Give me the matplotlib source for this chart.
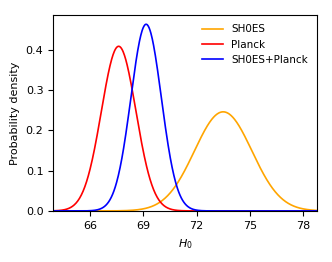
import numpy as np
import matplotlib.pyplot as plt

# Gaussian H0 posteriors (mean, sigma)
labels = ['SH0ES', 'Planck', 'SH0ES+Planck']
means = [73.5, 67.6, 69.15]
sigmas = [1.62, 0.975, 0.86]
colors = ['orange', 'red', 'blue']
xticks = [66, 69, 72, 75, 78]

plt.rcParams['font.size'] = 8

fig = plt.figure(figsize=(3.32, 2.62), dpi=100)
ax = fig.add_axes([0.16, 0.195, 0.795, 0.748])

h0 = np.linspace(63.9, 78.8, 600)
for lab, mu, sig, c in zip(labels, means, sigmas, colors):
    pdf = np.exp(-0.5 * ((h0 - mu) / sig) ** 2) / (sig * np.sqrt(2 * np.pi))
    ax.plot(h0, pdf, color=c, lw=1.2, label=lab)

ax.set_xlim(63.9, 78.8)
ax.set_ylim(0, None)
ax.set_xticks(xticks)
ax.set_xlabel('$H_0$', labelpad=5)
ax.set_ylabel('Probability density')
ax.legend(frameon=False, loc='upper right', fontsize=7.5)

fig.savefig('out.png', dpi=100)
